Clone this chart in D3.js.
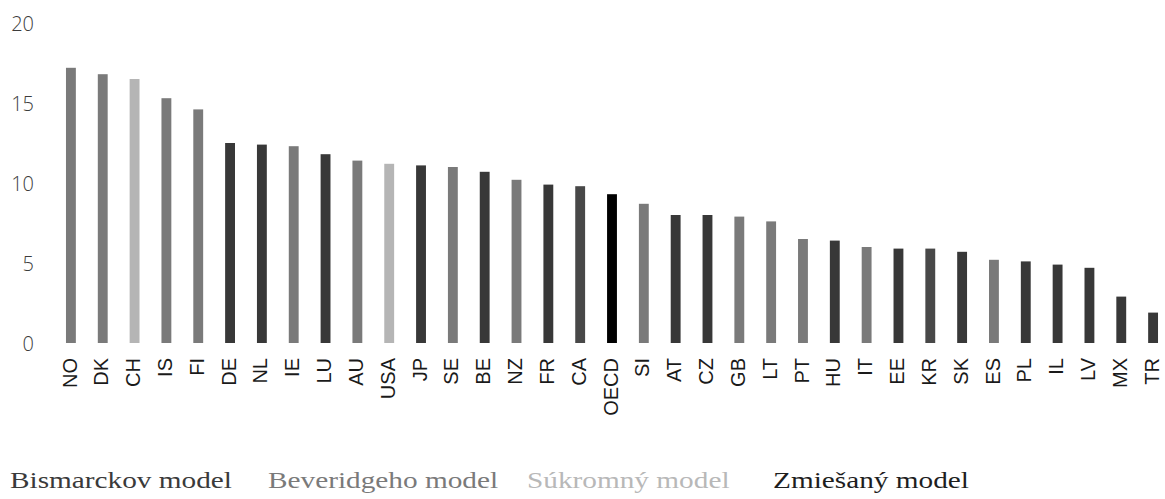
<!DOCTYPE html>
<html>
<head>
<meta charset="utf-8">
<script src="https://cdn.jsdelivr.net/npm/d3@7"></script>
<style>
  html, body { margin: 0; padding: 0; background: #fff; }
  svg { display: block; }
</style>
</head>
<body>
<svg id="chart" width="1165" height="499"></svg>
<script>
// Countries ordered by value, with the OECD average in the middle
const countries = ["NO","DK","CH","IS","FI","DE","NL","IE","LU","AU","USA","JP","SE","BE","NZ","FR","CA","OECD",
  "SI","AT","CZ","GB","LT","PT","HU","IT","EE","KR","SK","ES","PL","IL","LV","MX","TR"];
const values = [17.2,16.8,16.5,15.3,14.6,12.5,12.4,12.3,11.8,11.4,11.2,11.1,11.0,10.7,10.2,9.9,9.8,9.3,
  8.7,8.0,8.0,7.9,7.6,6.5,6.4,6.0,5.9,5.9,5.7,5.2,5.1,4.9,4.7,2.9,1.9];
// Health-system model of each country
const models = ["bev","bev","priv","bev","bev","bis","bis","bev","bis","bev","priv","bis","bev","bis","bev","bis","mix","oecd",
  "bev","bis","bis","bev","bev","bev","bis","bev","bis","mix","bis","bev","bis","bis","bis","bis","bis"];
const yTicks = [0, 5, 10, 15, 20];
const legendKeys = ["bis", "bev", "priv", "mix"];
const legendLabels = ["Bismarckov model", "Beveridgeho model", "Súkromný model", "Zmiešaný model"];

const fill = d3.scaleOrdinal()
  .domain(["bis", "bev", "priv", "mix", "oecd"])
  .range(["#383838", "#7a7a7a", "#b5b5b5", "#484848", "#000000"]);
const legendFill = d3.scaleOrdinal()
  .domain(legendKeys)
  .range(["#3a3a3a", "#7a7a7a", "#b8b8b8", "#1e1e1e"]);

const svg = d3.select("#chart");

const x = d3.scaleBand()
  .domain(countries)
  .range([55, 1169])
  .paddingInner(0.69)
  .paddingOuter(0.345);

const y = d3.scaleLinear()
  .domain([0, 20])
  .range([343, 23]);

// Bars
svg.append("g")
  .selectAll("rect")
  .data(countries)
  .join("rect")
  .attr("x", d => x(d))
  .attr("width", x.bandwidth())
  .attr("y", (d, i) => y(values[i]))
  .attr("height", (d, i) => y(0) - y(values[i]))
  .attr("fill", (d, i) => fill(models[i]));

// Y axis: labels only
const yAxis = svg.append("g")
  .attr("transform", "translate(34,0)")
  .call(d3.axisLeft(y).tickValues(yTicks).tickSize(0).tickPadding(0));
yAxis.select(".domain").remove();
yAxis.selectAll("text")
  .attr("font-family", "'Open Sans', 'DejaVu Sans', sans-serif")
  .attr("font-weight", 300)
  .attr("font-size", 20)
  .attr("fill", "#3c3c3c")
  .attr("dy", "0.36em");

// X axis: rotated country codes
const xAxis = svg.append("g")
  .attr("transform", `translate(0,${y(0)})`)
  .call(d3.axisBottom(x).tickSize(0).tickPadding(0));
xAxis.select(".domain").remove();
xAxis.selectAll("text")
  .attr("font-family", "'Liberation Sans Narrow', 'Liberation Sans', Arial, sans-serif")
  .attr("font-size", 20)
  .attr("fill", "#1a1a1a")
  .attr("text-anchor", "end")
  .attr("transform", "rotate(-90)")
  .attr("x", -15)
  .attr("y", 0)
  .attr("dy", "0.28em");

// Legend: coloured text labels
const legendX = [10, 268, 527, 773];
const legend = svg.append("g");
legend.selectAll("text")
  .data(legendKeys)
  .join("text")
  .attr("x", (d, i) => legendX[i])
  .attr("y", 488)
  .attr("font-family", "'Liberation Serif', 'Times New Roman', serif")
  .attr("font-size", 24)
  .attr("fill", d => legendFill(d))
  .text((d, i) => legendLabels[i])
  .each(function () {
    const w = this.getComputedTextLength();
    d3.select(this)
      .attr("textLength", w * 1.22)
      .attr("lengthAdjust", "spacingAndGlyphs");
  });
</script>
</body>
</html>
